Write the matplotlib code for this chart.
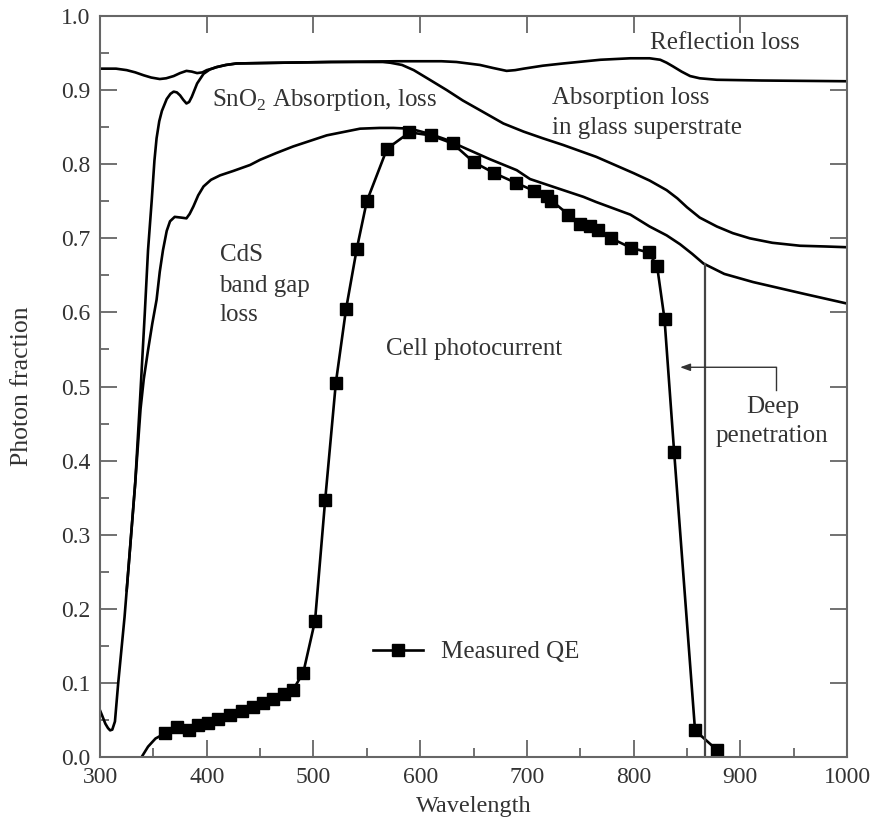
import numpy as np
import matplotlib
matplotlib.use("Agg")
import matplotlib.pyplot as plt
from matplotlib.ticker import MultipleLocator

plt.rcParams['font.family'] = ['Liberation Serif', 'DejaVu Serif']
plt.rcParams['mathtext.fontset'] = 'custom'
plt.rcParams['mathtext.rm'] = 'Liberation Serif'

# reflection loss (top curve)
refl_wl = [300, 315, 325, 333, 341, 348, 356, 362, 369, 375, 381, 386, 391, 396, 400,
           405, 409, 418, 428, 470, 516, 578, 620, 634, 645, 656, 668, 681, 689, 697,
           715, 734, 769, 797, 815, 825, 831, 837, 845, 853, 862, 878, 920, 1000]
refl = [0.929, 0.929, 0.927, 0.924, 0.920, 0.917, 0.915, 0.916, 0.919, 0.923, 0.926,
        0.925, 0.923, 0.924, 0.927, 0.929, 0.931, 0.934, 0.936, 0.937, 0.938, 0.939,
        0.939, 0.938, 0.936, 0.934, 0.930, 0.926, 0.927, 0.929, 0.933, 0.936, 0.941,
        0.943, 0.943, 0.941, 0.937, 0.932, 0.925, 0.919, 0.916, 0.914, 0.913, 0.912]

# after glass + SnO2 absorption
glass_wl = [300, 302, 305, 307.5, 309.5, 311.5, 314, 317, 323, 328, 333, 337.5, 342,
            345, 348.5, 351, 353, 355.5, 358, 362.5, 366, 369, 372, 375, 378, 381, 383.5,
            386, 391, 397, 403, 409, 418, 428, 470, 516, 565, 572, 583, 594, 609, 625,
            640, 656, 678, 697, 715, 734, 765, 800, 815, 831, 841, 850, 862, 878, 893,
            909, 930, 956, 980, 1000]
glass = [0.063, 0.056, 0.045, 0.039, 0.036, 0.037, 0.048, 0.099, 0.189, 0.279, 0.370,
         0.482, 0.600, 0.684, 0.752, 0.805, 0.835, 0.858, 0.872, 0.888, 0.895, 0.898,
         0.897, 0.893, 0.887, 0.882, 0.884, 0.891, 0.909, 0.922, 0.928, 0.931, 0.934,
         0.936, 0.937, 0.938, 0.938, 0.937, 0.934, 0.927, 0.914, 0.900, 0.886, 0.873,
         0.855, 0.844, 0.835, 0.826, 0.810, 0.788, 0.778, 0.765, 0.754, 0.742, 0.728,
         0.716, 0.707, 0.700, 0.694, 0.690, 0.689, 0.688]

# after CdS absorption
cds_wl = [325, 328, 333, 338, 341, 345, 349, 353, 356, 359, 362.5, 365.6, 370, 376, 381,
          384, 387.5, 392, 397, 404, 412.5, 425, 440.6, 450, 465, 481, 512.5, 543.7, 562,
          575, 590.5, 609, 625, 640, 665, 690.5, 703, 730, 753, 765, 797, 815, 831, 843.6,
          855, 865.5, 885, 912, 960, 1000]
cds = [0.225, 0.279, 0.370, 0.470, 0.510, 0.549, 0.585, 0.617, 0.655, 0.684, 0.710,
       0.723, 0.729, 0.728, 0.727, 0.733, 0.743, 0.758, 0.770, 0.779, 0.785, 0.791,
       0.799, 0.806, 0.815, 0.824, 0.839, 0.848, 0.849, 0.849, 0.848, 0.841, 0.833,
       0.823, 0.807, 0.792, 0.780, 0.767, 0.756, 0.749, 0.732, 0.716, 0.704, 0.692,
       0.679, 0.666, 0.652, 0.641, 0.625, 0.612]

# measured quantum efficiency
qe_wl = [361, 372, 383, 392, 401.5, 411, 422, 433, 443, 453, 462, 472, 481, 490.5, 501.5,
         511, 521, 530.5, 540.5, 550, 569, 590, 610, 630.5, 650, 669.5, 689.5, 707,
         718.6, 723, 739, 750, 759, 767, 779, 798, 814, 822, 829, 838, 857.6, 878.5]
qe = [0.032, 0.041, 0.037, 0.043, 0.046, 0.051, 0.057, 0.062, 0.068, 0.073, 0.078,
      0.085, 0.091, 0.114, 0.184, 0.347, 0.505, 0.604, 0.685, 0.750, 0.821, 0.843,
      0.839, 0.828, 0.803, 0.788, 0.775, 0.764, 0.757, 0.751, 0.732, 0.720, 0.716,
      0.711, 0.700, 0.687, 0.681, 0.663, 0.591, 0.412, 0.036, 0.009]
qe_line_wl = [339, 345, 352] + qe_wl + [884]
qe_line = [0.0, 0.014, 0.025] + qe + [0.0]

cutoff_wl = 867
cutoff_top = 0.666

fig = plt.figure(figsize=(8.75, 8.27), dpi=100)
ax = fig.add_axes([0.1143, 0.0846, 0.8537, 0.896])

lw = 1.9
ax.plot(refl_wl, refl, color='black', lw=lw)
ax.plot(glass_wl, glass, color='black', lw=lw)
ax.plot(cds_wl, cds, color='black', lw=lw)
ax.plot(qe_line_wl, qe_line, color='black', lw=lw)
ax.plot(qe_wl, qe, ls='none', marker='s', ms=9, color='black')
# legend handle only
ax.plot([], [], color='black', lw=lw, marker='s', ms=9, label='Measured QE')

ax.plot([cutoff_wl, cutoff_wl], [0, cutoff_top], color='#444444', lw=1.6)

# deep penetration arrow
ax.plot([933.6, 933.6], [0.526, 0.495], color='#333333', lw=1.0)
ax.annotate('', xy=(843.6, 0.526), xytext=(933.6, 0.526),
            arrowprops=dict(arrowstyle='-|>,head_length=0.6,head_width=0.22',
                            color='#333333', lw=1.0, shrinkA=0, shrinkB=0))

tc = '#333333'
fs = 18
ax.text(815, 0.963, 'Reflection loss', fontsize=fs, color=tc, va='center')
ax.text(405, 0.887, r'SnO$_{\mathrm{2}}$ Absorption, loss', fontsize=fs, color=tc, va='center')
ax.text(724, 0.889, 'Absorption loss', fontsize=fs, color=tc, va='center')
ax.text(724, 0.849, 'in glass superstrate', fontsize=fs, color=tc, va='center')
ax.text(412, 0.677, 'CdS', fontsize=fs, color=tc, va='center')
ax.text(412, 0.636, 'band gap', fontsize=fs, color=tc, va='center')
ax.text(412, 0.596, 'loss', fontsize=fs, color=tc, va='center')
ax.text(568, 0.55, 'Cell photocurrent', fontsize=fs, color=tc, va='center')
ax.text(930, 0.473, 'Deep', fontsize=fs, color=tc, va='center', ha='center')
ax.text(930, 0.433, 'penetration', fontsize=fs, color=tc, va='center', ha='center')

leg = ax.legend(loc='center left', bbox_to_anchor=(0.3655, 0.1417), frameon=False,
                fontsize=fs, handlelength=2.0, handletextpad=0.7, borderpad=0,
                borderaxespad=0, labelcolor=tc)

ax.set_xlim(300, 1000)
ax.set_ylim(0, 1.0)
ax.xaxis.set_major_locator(MultipleLocator(100))
ax.xaxis.set_minor_locator(MultipleLocator(50))
ax.yaxis.set_major_locator(MultipleLocator(0.1))
ax.yaxis.set_minor_locator(MultipleLocator(0.05))
ax.yaxis.set_major_formatter(plt.FormatStrFormatter('%.1f'))

sc = '#666666'
for s in ax.spines.values():
    s.set_color(sc)
    s.set_linewidth(1.5)
ax.tick_params(which='both', direction='in', color=sc, width=1.3,
               labelsize=17, labelcolor=tc)
ax.tick_params(which='major', length=12, pad=7)
ax.tick_params(which='minor', length=6.5)
# duplicate major ticks on top and right
ax.tick_params(which='major', top=True, right=True)

ax.set_xlabel('Wavelength', fontsize=17.5, color=tc)
ax.set_ylabel('Photon fraction', fontsize=18.5, color=tc)
ax.xaxis.set_label_coords(0.5, -0.052)
ax.yaxis.set_label_coords(-0.09, 0.5)

fig.savefig('out.png', dpi=100)
